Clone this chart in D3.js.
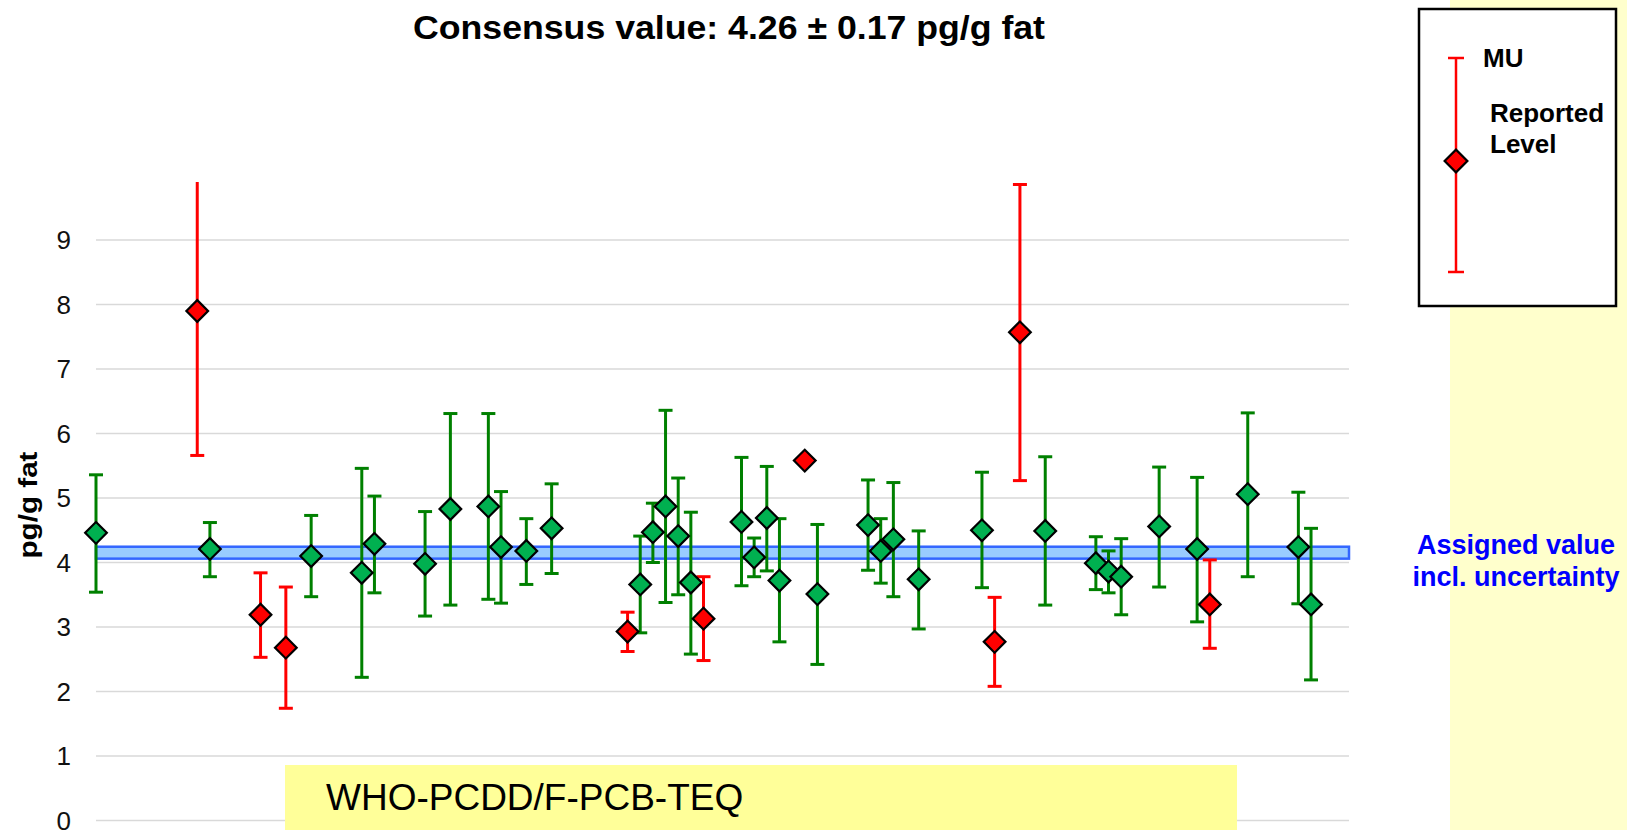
<!DOCTYPE html>
<html>
<head>
<meta charset="utf-8">
<script src="https://cdn.jsdelivr.net/npm/d3@7"></script>
<style>
    body { margin: 0; background: #fff; }
    text { font-family: "Liberation Sans", Arial, sans-serif; }
</style>
</head>
<body>
<div id="chart"></div>
<script>

// --> DATA
// position of each lab along the x axis
var labPos = [0, 8, 9, 13, 15, 17, 21, 22, 26, 28, 31, 32, 34, 36, 42, 43, 44, 45, 46, 47, 48,
    51, 52, 53, 54, 56, 57, 61, 62, 63, 65, 70, 71, 73, 75, 79, 80, 81, 84, 87, 88, 91, 95, 96];

// reported level, pg/g fat
var reported = [4.46, 7.90, 4.21, 3.19, 2.68, 4.10, 3.84, 4.29, 3.98, 4.83, 4.87, 4.24, 4.18, 4.53,
    2.93, 3.66, 4.47, 4.87, 4.41, 3.69, 3.13, 4.63, 4.08, 4.69, 3.72, 5.58, 3.51, 4.58, 4.18, 4.36,
    3.74, 4.50, 2.77, 7.57, 4.49, 3.99, 3.86, 3.78, 4.56, 4.21, 3.35, 5.06, 4.24, 3.35];

// measurement uncertainty (upper / lower end), null = not reported
var muHigh = [5.36, 10.14, 4.62, 3.84, 3.62, 4.73, 5.46, 5.03, 4.79, 6.31, 6.31, 5.10, 4.68, 5.22,
    3.23, 4.41, 4.92, 6.36, 5.31, 4.78, 3.78, 5.63, 4.38, 5.49, 4.68, null, 4.59, 5.28, 4.68, 5.24,
    4.49, 5.40, 3.46, 9.86, 5.64, 4.40, 4.18, 4.37, 5.48, 5.32, 4.04, 6.32, 5.09, 4.53];
var muLow = [3.54, 5.66, 3.78, 2.53, 1.74, 3.47, 2.22, 3.53, 3.17, 3.34, 3.43, 3.37, 3.66, 3.83,
    2.62, 2.91, 4.00, 3.38, 3.50, 2.58, 2.48, 3.64, 3.78, 3.87, 2.77, null, 2.42, 3.88, 3.68, 3.47,
    2.97, 3.61, 2.08, 5.27, 3.34, 3.58, 3.53, 3.19, 3.62, 3.08, 2.67, 3.78, 3.36, 2.18];

// red = result not in agreement
var flagged = [false, true, false, true, true, false, false, false, false, false, false, false, false, false,
    true, false, false, false, false, false, true, false, false, false, false, true, false, false, false, false,
    false, false, true, true, false, false, false, false, false, false, true, false, false, false];

// assigned value band incl. uncertainty
var assignedBand = [4.06, 4.245];
var yTicks = [0, 1, 2, 3, 4, 5, 6, 7, 8, 9];

var titleText = "Consensus value: 4.26 \u00b1 0.17 pg/g fat";
var yLabel = "pg/g fat";
var groupLabel = "WHO-PCDD/F-PCB-TEQ";

// --> SVG DRAWING AREA
var width = 1627,
    height = 830;

var svg = d3.select("#chart").append("svg")
    .attr("width", width)
    .attr("height", height);

var plot = {left: 96, right: 1349, top: 182, bottom: 820.5};

var x = d3.scaleLinear()
    .domain([0, 99])
    .range([plot.left, plot.right]);

var y = d3.scaleLinear()
    .domain([0, 9.9])
    .range([plot.bottom, plot.top]);

var green = "#008000",
    greenFill = "#00b050",
    red = "#ff0000";

// yellow strip on the right
svg.append("rect")
    .attr("x", 1450).attr("y", 0)
    .attr("width", width - 1450).attr("height", height)
    .attr("fill", "#ffffcc");

// gridlines
svg.append("g")
    .selectAll("line")
    .data(yTicks)
    .enter()
    .append("line")
    .attr("x1", plot.left)
    .attr("x2", plot.right)
    .attr("y1", function (d) { return y(d); })
    .attr("y2", function (d) { return y(d); })
    .attr("stroke", "#d9d9d9")
    .attr("stroke-width", 1.5);

// tick labels
svg.append("g")
    .selectAll("text")
    .data(yTicks)
    .enter()
    .append("text")
    .attr("x", 71)
    .attr("y", function (d) { return y(d); })
    .attr("dy", "0.36em")
    .attr("text-anchor", "end")
    .attr("font-size", 26)
    .attr("fill", "#111")
    .text(function (d) { return d; });

// assigned value band
svg.append("rect")
    .attr("x", plot.left)
    .attr("y", y(assignedBand[1]))
    .attr("width", plot.right - plot.left)
    .attr("height", y(assignedBand[0]) - y(assignedBand[1]))
    .attr("fill", "#99ccff")
    .attr("stroke", "#3366ff")
    .attr("stroke-width", 2.5);

// group label box
svg.append("rect")
    .attr("x", 285).attr("y", 765)
    .attr("width", 952).attr("height", 70)
    .attr("fill", "#ffff99");

svg.append("text")
    .attr("x", 326).attr("y", 810)
    .attr("font-size", 37)
    .attr("fill", "#000")
    .text(groupLabel);

// points table
var points = labPos.map(function (p, i) {
    return {pos: p, val: reported[i], hi: muHigh[i], lo: muLow[i], bad: flagged[i]};
});

svg.append("clipPath")
    .attr("id", "plot-clip")
    .append("rect")
    .attr("x", 0).attr("y", plot.top)
    .attr("width", width).attr("height", plot.bottom - plot.top + 20);

// error bars
var bars = svg.append("g")
    .attr("clip-path", "url(#plot-clip)")
    .selectAll("g")
    .data(points.filter(function (d) { return d.hi !== null; }))
    .enter()
    .append("g")
    .attr("stroke", function (d) { return d.bad ? red : green; })
    .attr("stroke-width", 3);

bars.append("line")
    .attr("x1", function (d) { return x(d.pos); })
    .attr("x2", function (d) { return x(d.pos); })
    .attr("y1", function (d) { return y(d.hi); })
    .attr("y2", function (d) { return y(d.lo); });

bars.selectAll(".cap")
    .data(function (d) { return [d.hi, d.lo].map(function (v) { return {pos: d.pos, v: v}; }); })
    .enter()
    .append("line")
    .attr("class", "cap")
    .attr("x1", function (d) { return x(d.pos) - 7; })
    .attr("x2", function (d) { return x(d.pos) + 7; })
    .attr("y1", function (d) { return y(d.v); })
    .attr("y2", function (d) { return y(d.v); });

// diamonds
var diamond = d3.symbol().type(d3.symbolSquare).size(235);

svg.append("g")
    .selectAll("path")
    .data(points)
    .enter()
    .append("path")
    .attr("d", diamond)
    .attr("transform", function (d) {
        return "translate(" + x(d.pos) + "," + y(d.val) + ") rotate(45)";
    })
    .attr("fill", function (d) { return d.bad ? red : greenFill; })
    .attr("stroke", "#000")
    .attr("stroke-width", 2.2);

// title
svg.append("text")
    .attr("x", 413).attr("y", 39)
    .attr("font-size", 33)
    .attr("font-weight", "bold")
    .attr("textLength", 632)
    .attr("lengthAdjust", "spacingAndGlyphs")
    .text(titleText);

// y axis label
svg.append("text")
    .attr("transform", "translate(37,505) rotate(-90)")
    .attr("text-anchor", "middle")
    .attr("font-size", 25)
    .attr("font-weight", "bold")
    .attr("textLength", 107)
    .attr("lengthAdjust", "spacingAndGlyphs")
    .text(yLabel);

// assigned value note
svg.append("text")
    .attr("x", 1516).attr("y", 554)
    .attr("text-anchor", "middle")
    .attr("font-size", 27)
    .attr("font-weight", "bold")
    .attr("fill", "#0000ff")
    .text("Assigned value");
svg.append("text")
    .attr("x", 1516).attr("y", 586)
    .attr("text-anchor", "middle")
    .attr("font-size", 27)
    .attr("font-weight", "bold")
    .attr("fill", "#0000ff")
    .text("incl. uncertainty");

// --> LEGEND
var legend = svg.append("g");

legend.append("rect")
    .attr("x", 1419).attr("y", 9)
    .attr("width", 197).attr("height", 297)
    .attr("fill", "#fff")
    .attr("stroke", "#000")
    .attr("stroke-width", 2.5);

var lx = 1456;
legend.append("line")
    .attr("x1", lx).attr("x2", lx)
    .attr("y1", 58).attr("y2", 272)
    .attr("stroke", red).attr("stroke-width", 2.5);
[58, 272].forEach(function (ly) {
    legend.append("line")
        .attr("x1", lx - 8).attr("x2", lx + 8)
        .attr("y1", ly).attr("y2", ly)
        .attr("stroke", red).attr("stroke-width", 2.5);
});
legend.append("path")
    .attr("d", d3.symbol().type(d3.symbolSquare).size(260))
    .attr("transform", "translate(" + lx + ",161) rotate(45)")
    .attr("fill", red)
    .attr("stroke", "#000")
    .attr("stroke-width", 2.2);

legend.append("text")
    .attr("x", 1483).attr("y", 67)
    .attr("font-size", 26).attr("font-weight", "bold")
    .text("MU");
legend.append("text")
    .attr("x", 1490).attr("y", 122)
    .attr("font-size", 26).attr("font-weight", "bold")
    .text("Reported");
legend.append("text")
    .attr("x", 1490).attr("y", 153)
    .attr("font-size", 26).attr("font-weight", "bold")
    .text("Level");

</script>
</body>
</html>
